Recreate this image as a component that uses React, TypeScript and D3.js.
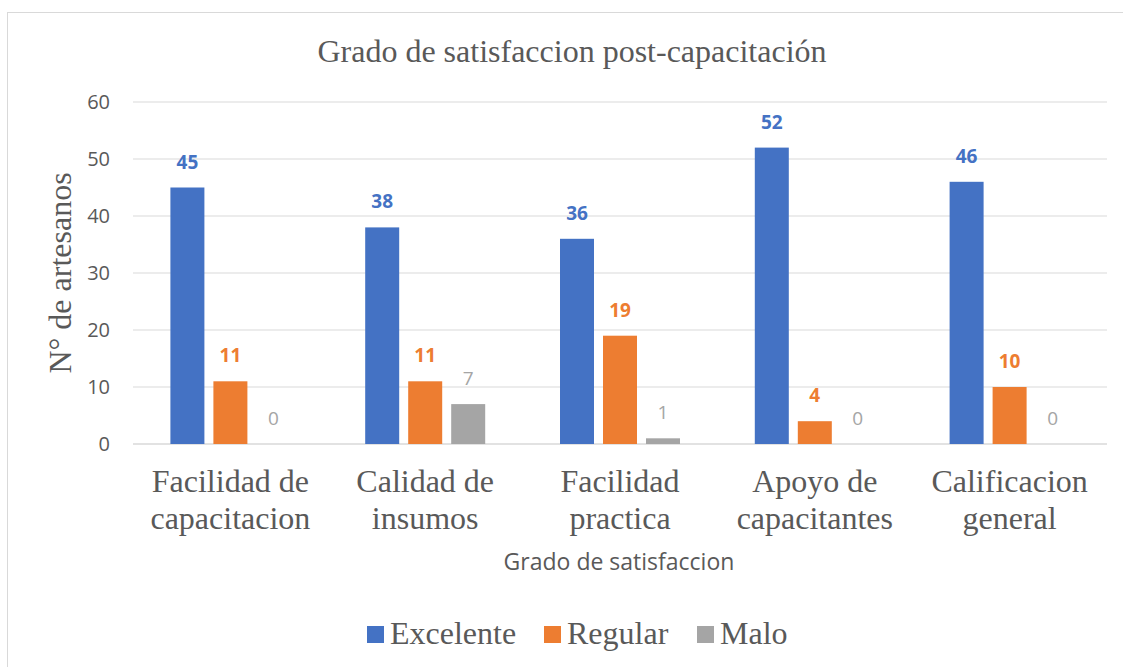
import React from "react";
import * as d3 from "d3";

const categories = [
  ["Facilidad de", "capacitacion"],
  ["Calidad de", "insumos"],
  ["Facilidad", "practica"],
  ["Apoyo de", "capacitantes"],
  ["Calificacion", "general"],
];
const seriesNames = ["Excelente", "Regular", "Malo"];
const excelente = [45, 38, 36, 52, 46];
const regular = [11, 11, 19, 4, 10];
const malo = [0, 7, 1, 0, 0];
const yTicks = [0, 10, 20, 30, 40, 50, 60];
const colors = ["#4472C4", "#ED7D31", "#A5A5A5"];

const W = 1123;
const H = 667;
const serif = "'Liberation Serif', 'Times New Roman', serif";
const sans = "'Open Sans', 'Liberation Sans', sans-serif";

export default function App() {
  const series = [excelente, regular, malo];
  const left = 133, right = 1107, top = 102, bottom = 444;
  const x0 = d3.scaleBand<number>().domain(d3.range(categories.length)).range([left, right]).paddingInner(0).paddingOuter(0);
  const y = d3.scaleLinear().domain([0, 60]).range([bottom, top]);
  const barW = 34, step = 43;

  return (
    <svg width={W} height={H} style={{ position: "absolute", left: 0, top: 0, background: "#fff" }}>
      <rect x={7.5} y={12.5} width={W} height={H} fill="#fff" stroke="#d9d9d9" strokeWidth={1} />
      <text x={572} y={62} textAnchor="middle" fontFamily={serif} fontSize={32} fill="#595959">
        Grado de satisfaccion post-capacitación
      </text>
      {yTicks.map((t) => (
        <g key={t}>
          <line x1={left} x2={right} y1={y(t)} y2={y(t)} stroke="#d9d9d9" strokeWidth={t === 0 ? 1.5 : 1} />
          <text x={110} y={y(t)} dy="0.35em" textAnchor="end" fontFamily={sans} fontSize={20} fill="#595959">
            {t}
          </text>
        </g>
      ))}
      <text transform={`translate(71,${273}) rotate(-90)`} textAnchor="middle" fontFamily={serif} fontSize={32} fill="#595959">
        N° de artesanos
      </text>
      {categories.map((c, i) => {
        const cx = (x0(i) as number) + x0.bandwidth() / 2;
        return (
          <g key={i}>
            {series.map((s, j) => {
              const bx = cx + (j - 1) * step - barW / 2;
              const v = s[i];
              return (
                <g key={j}>
                  {v > 0 && <rect x={bx} y={y(v)} width={barW} height={bottom - y(v)} fill={colors[j]} />}
                  <text
                    x={bx + barW / 2}
                    y={y(v) - 19}
                    textAnchor="middle"
                    fontFamily={sans}
                    fontSize={19}
                    fontWeight={j < 2 ? 700 : 400}
                    fill={colors[j]}
                  >
                    {v}
                  </text>
                </g>
              );
            })}
            <text x={cx} y={492} textAnchor="middle" fontFamily={serif} fontSize={32} fill="#595959">
              {c[0]}
            </text>
            <text x={cx} y={529} textAnchor="middle" fontFamily={serif} fontSize={32} fill="#595959">
              {c[1]}
            </text>
          </g>
        );
      })}
      <text x={619} y={570} textAnchor="middle" fontFamily={sans} fontSize={23} fill="#595959">
        Grado de satisfaccion
      </text>
      {seriesNames.map((n, j) => {
        const lx = [367, 544, 697][j];
        return (
          <g key={n}>
            <rect x={lx} y={626} width={17} height={17} fill={colors[j]} />
            <text x={lx + 23} y={644} fontFamily={serif} fontSize={32} fill="#595959">
              {n}
            </text>
          </g>
        );
      })}
    </svg>
  );
}
